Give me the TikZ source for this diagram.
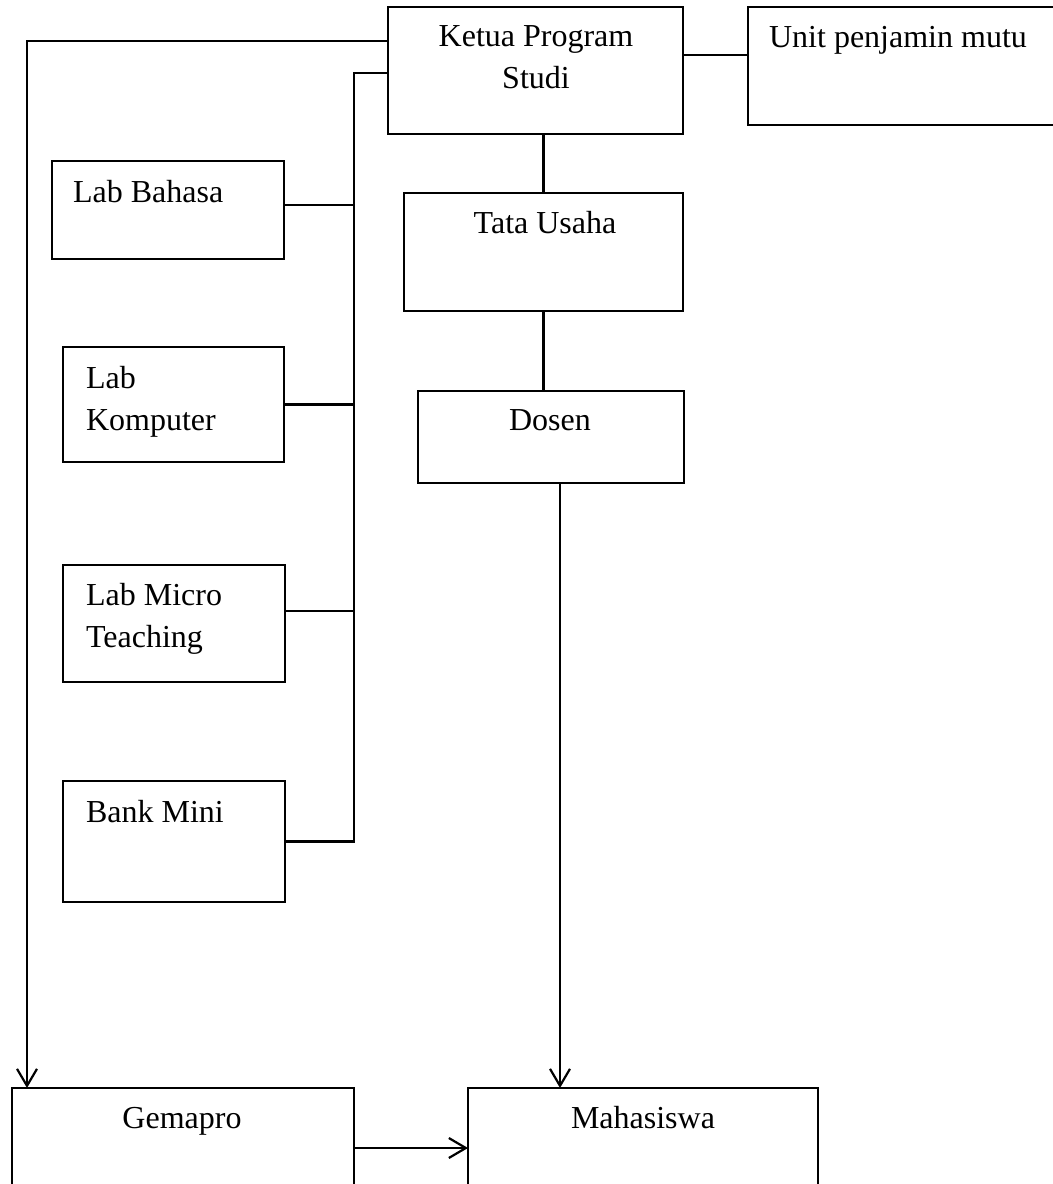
\documentclass[tikz,border=0pt]{standalone}
\usepackage{fontspec}
\setmainfont{Liberation Serif}
\usetikzlibrary{arrows.meta}

\begin{document}
\begin{tikzpicture}
      [x=0.5pt, y=-0.5pt, line width=1.1pt,
        box/.style={draw, rectangle, inner sep=0, outer sep=0, anchor=north west},
        txt/.style={inner sep=0, font=\fontsize{16}{21}\selectfont},
        arr/.style={-{Straight Barb[length=8.5pt,width=10pt]}}]
      \useasboundingbox (0,0) rectangle (1053,1184);
      % boxes
      \node[box, minimum width=147.5pt, minimum height=63.5pt] (ketua) at (388,7) {};
      \node[box, minimum width=160pt, minimum height=59pt] (unit) at (748,7) {};
      \node[box, minimum width=139.5pt, minimum height=59pt] (tata) at (404,193) {};
      \node[box, minimum width=133pt, minimum height=46pt] (dosen) at (418,391) {};
      \node[box, minimum width=116pt, minimum height=49pt] (labbahasa) at (52,161) {};
      \node[box, minimum width=110.5pt, minimum height=57.5pt] (labkomp) at (63,347) {};
      \node[box, minimum width=111pt, minimum height=58.5pt] (labmicro) at (63,565) {};
      \node[box, minimum width=111pt, minimum height=60.5pt] (bankmini) at (63,781) {};
      \node[box, minimum width=171pt, minimum height=60pt] (gemapro) at (12,1088) {};
      \node[box, minimum width=175pt, minimum height=60pt] (mahasiswa) at (468,1088) {};
      % texts
      \node[txt, anchor=base, align=center] (ketua-txt) at (536,88) {Ketua Program\\Studi};
      \node[txt, anchor=base west] (unit-txt) at (768,47) {Unit penjamin mutu};
      \node[txt, anchor=base] (tata-txt) at (545,233) {Tata Usaha};
      \node[txt, anchor=base] (dosen-txt) at (550,430) {Dosen};
      \node[txt, anchor=base west] (labbahasa-txt) at (72,202) {Lab Bahasa};
      \node[txt, anchor=base west, align=left] (labkomp-txt) at (85,430) {Lab\\Komputer};
      \node[txt, anchor=base west, align=left] (labmicro-txt) at (85,647) {Lab Micro\\Teaching};
      \node[txt, anchor=base west] (bankmini-txt) at (85,822) {Bank Mini};
      \node[txt, anchor=base] (gemapro-txt) at (182,1128) {Gemapro};
      \node[txt, anchor=base] (mahasiswa-txt) at (643,1128) {Mahasiswa};
      % connectors
      \coordinate (bus) at (354,0);
      \draw ([yshift=-24pt]ketua.north east) coordinate (ku) -- (ku -| unit.west);
      \draw (tata.north) -- (tata.north |- ketua.south);
      \draw (tata.south) -- (tata.south |- dosen.north);
      \draw ([yshift=-33pt]ketua.north west) -| (bus |- bankmini.east) -- (bankmini.east);
      \draw ([yshift=2.5pt]labbahasa.east) coordinate (lb) -- (lb -| bus);
      \draw (labkomp.east) -- (labkomp.east -| bus);
      \draw ([yshift=6.25pt]labmicro.east) coordinate (lm) -- (lm -| bus);
      \draw[arr] ([yshift=-17pt]ketua.north west) -| ([xshift=7.5pt]gemapro.north west);
      \draw[arr] ([xshift=4.5pt]dosen.south) coordinate (ds) -- (ds |- mahasiswa.north);
      \draw[arr] (gemapro.east) -- (mahasiswa.west);
\end{tikzpicture}
\end{document}
